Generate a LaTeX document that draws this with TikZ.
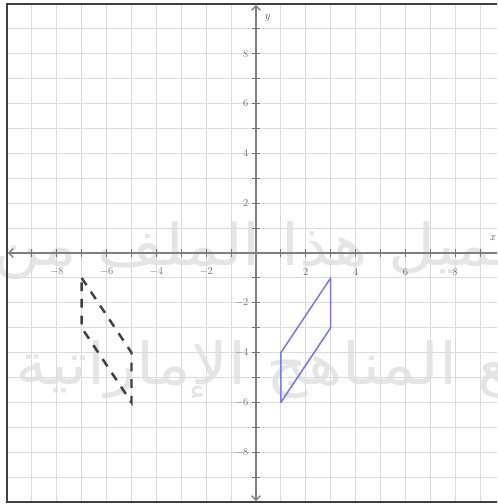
\documentclass[tikz,border=0pt]{standalone}
\usepackage{fontspec}
\TeXXeTstate=1
\newfontfamily\arabicfont[Script=Arabic]{DejaVu Sans}
\usetikzlibrary{arrows.meta}
\definecolor{shapeblue}{RGB}{122,122,232}
\definecolor{wmgray}{RGB}{222,222,222}
\tikzset{
  gridline/.style={draw=black!14, line width=1.3pt},
  axisline/.style={draw=black!50, line width=1.5pt},
  tickmark/.style={draw=black!55, line width=1.1pt},
  ticklabel/.style={text=black!60, font=\fontsize{12.5}{14}\selectfont, inner sep=0pt},
  framebox/.style={draw=black!75, line width=1.8pt},
  watermark/.style={text=wmgray, opacity=0.8, font=\arabicfont\fontsize{66}{70}\selectfont, inner sep=0pt, anchor=base, xscale=1.12, transform shape},
  image/.style={draw=black!75, line width=2.8pt, dash pattern=on 10pt off 9pt},
  preimage/.style={draw=shapeblue, line width=1.8pt, line join=round},
  axislabel/.style={text=black!70, font=\itshape\fontsize{13}{15}\selectfont, inner sep=0pt}
}
\begin{document}
\begin{tikzpicture}[x=1cm,y=1cm]
\useasboundingbox (-10.28,-10.08) rectangle (9.68,10.16);
\clip (-10.28,-10.08) rectangle (9.68,10.16);
% grid
\draw[gridline] (-10,-10) grid (10,10);
% watermark
\node[watermark] (wm1) at (0.7,-0.5) {\beginR تحميل هذا الملف من\endR};
\node[watermark] (wm2) at (2.3,-5.3) {\beginR موقع المناهج الإماراتية\endR};
% axes
\coordinate (xl) at (-9.96,0);
\coordinate (xr) at (9.96,0);
\coordinate (yb) at (0,-9.96);
\coordinate (yt) at (0,9.96);
\draw[axisline, {Straight Barb[length=5pt,width=10pt]}-{Straight Barb[length=5pt,width=10pt]}] (xl) -- (xr);
\draw[axisline, {Straight Barb[length=5pt,width=10pt]}-{Straight Barb[length=5pt,width=10pt]}] (yb) -- (yt);
\foreach \i in {-9,...,-1,1,2,...,9} {
  \draw[tickmark] (\i,-0.17) -- (\i,0.17);
  \draw[tickmark] (-0.17,\i) -- (0.17,\i);
}
\foreach \i in {-8,-6,-4,-2,2,4,6,8} {
  \node[ticklabel] (xt\i) at (\i,-0.76) {$\i$};
  \node[ticklabel, anchor=east] (yt\i) at (-0.3,\i) {$\i$};
}
\node[axislabel] (xlab) at (9.5,0.6) {x};
\node[axislabel] (ylab) at (0.45,9.45) {y};
% frame
\draw[framebox] (-10,-10) rectangle (10.6,10);
% pre-image (blue)
\coordinate (A) at (3,-1);
\coordinate (B) at (3,-3);
\coordinate (C) at (1,-6);
\coordinate (D) at (1,-4);
\draw[preimage] (A) -- (B) -- (C) -- (D) -- cycle;
% image (dashed)
\coordinate (P) at (-7,-1);
\coordinate (Q) at (-7,-3);
\coordinate (R) at (-5,-6);
\coordinate (S) at (-5,-4);
\draw[image] (P) -- (S) -- (R) -- (Q) -- cycle;
\end{tikzpicture}
\end{document}
